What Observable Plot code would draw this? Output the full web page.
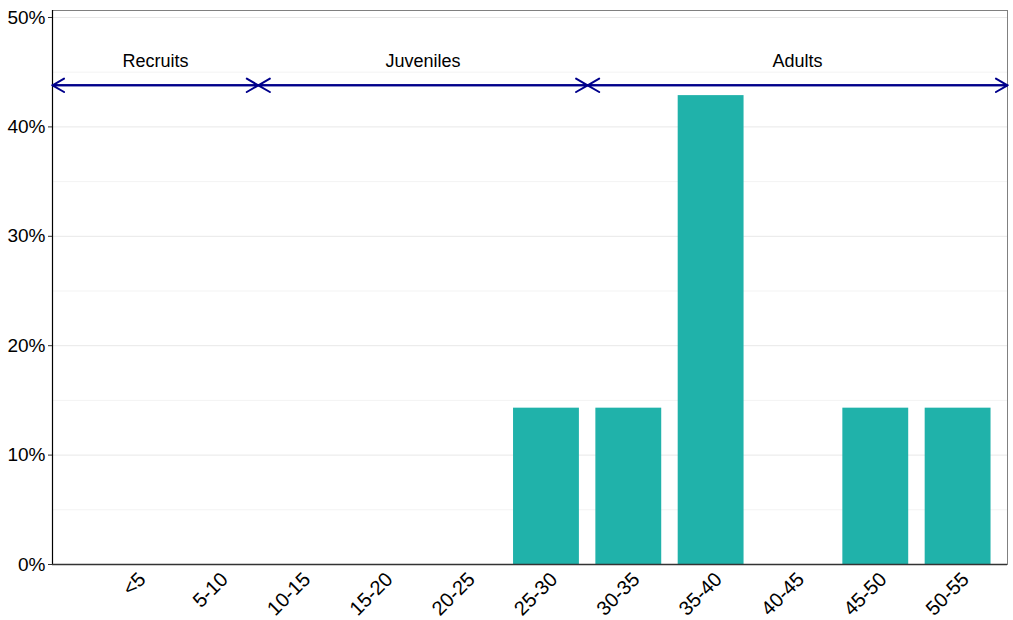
<!DOCTYPE html>
<html>
<head>
<meta charset="utf-8">
<script src="https://cdn.jsdelivr.net/npm/d3@7"></script>
<script src="https://cdn.jsdelivr.net/npm/@observablehq/plot@0.6"></script>
<style>
  html, body { margin: 0; padding: 0; background: #fff; }
  #chart svg { display: block; }
</style>
</head>
<body>
<div id="chart"></div>
<script>
const sizeClasses = ["<5", "5-10", "10-15", "15-20", "20-25", "25-30", "30-35", "35-40", "40-45", "45-50", "50-55"];
const percentages = [0, 0, 0, 0, 0, 14.29, 14.29, 42.86, 0, 14.29, 14.29];
const stageNames = ["Recruits", "Juveniles", "Adults"];
const stageStart = [0, 2.5, 6.5];
const stageEnd = [2.5, 6.5, 11.6];
const yTicks = [0, 10, 20, 30, 40, 50];
const yMinor = [5, 15, 25, 35, 45];

const bars = sizeClasses.map((c, i) => ({cls: c, pos: i + 1, pct: percentages[i]})).filter(d => d.pct > 0);
const labels = sizeClasses.map((c, i) => ({cls: c, pos: i + 1}));
const stages = stageNames.map((s, i) => ({name: s, x1: stageStart[i], x2: stageEnd[i], y: 43.8}));

const font = "'Liberation Sans', Arial, sans-serif";

const chart = Plot.plot({
  width: 1013,
  height: 620,
  marginLeft: 52,
  marginRight: 6,
  marginTop: 10,
  marginBottom: 56,
  style: {fontFamily: font, fontSize: "18px", color: "#000", background: "#fff"},
  x: {domain: [0, 11.6], axis: null},
  y: {domain: [0, 50.64], axis: null},
  marks: [
    Plot.ruleY(yMinor, {stroke: "#f3f3f3", strokeWidth: 1}),
    Plot.ruleY(yTicks, {stroke: "#e8e8e8", strokeWidth: 1}),
    Plot.rectY(bars, {x1: d => d.pos - 0.4, x2: d => d.pos + 0.4, y1: 0, y2: "pct", fill: "#20B2AA"}),
    Plot.frame({stroke: "#808080", strokeWidth: 1}),
    Plot.ruleX([0], {stroke: "#000", strokeWidth: 1.2}),
    Plot.ruleY([0], {stroke: "#333", strokeWidth: 1.5}),
    Plot.axisY({ticks: yTicks, tickFormat: d => d + "%", tickSize: 4, tickPadding: 3, fontSize: 19, label: null, stroke: "#333"}),
    Plot.text(labels, {x: "pos", frameAnchor: "bottom", text: "cls", rotate: -45, textAnchor: "end", lineAnchor: "top", dy: 6, dx: 2, fontSize: 20, fill: "#000"}),
    Plot.arrow(stages, {x1: "x1", x2: "x2", y1: "y", y2: "y", stroke: "#00008B", strokeWidth: 2, headLength: 10, headAngle: 60}),
    Plot.arrow(stages, {x1: "x2", x2: "x1", y1: "y", y2: "y", stroke: "#00008B", strokeWidth: 2, headLength: 10, headAngle: 60}),
    Plot.text(stages, {x: d => (d.x1 + d.x2) / 2, y: 46, text: "name", fontSize: 18, fill: "#000"})
  ]
});
document.getElementById("chart").append(chart);
</script>
</body>
</html>
